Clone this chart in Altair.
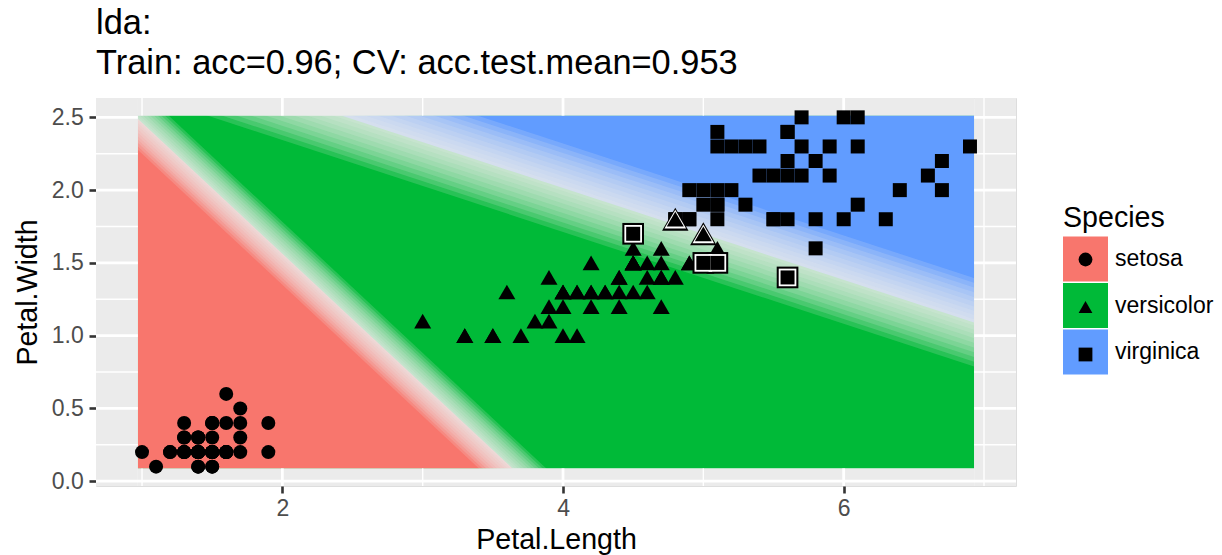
import altair as alt
import pandas as pd

# ---------------- data ----------------
SPECIES = ["setosa", "versicolor", "virginica"]
COLORS = ["#F8766D", "#00BA38", "#619CFF"]
SHAPES = ["circle", "triangle-up", "square"]

SETOSA_PL = [1.4, 1.4, 1.3, 1.5, 1.4, 1.7, 1.4, 1.5, 1.4, 1.5, 1.5, 1.6, 1.4, 1.1, 1.2, 1.5, 1.3, 1.4, 1.7, 1.5,
             1.7, 1.5, 1.0, 1.7, 1.9, 1.6, 1.6, 1.5, 1.4, 1.6, 1.6, 1.5, 1.5, 1.4, 1.5, 1.2, 1.3, 1.4, 1.3, 1.5,
             1.3, 1.3, 1.3, 1.6, 1.9, 1.4, 1.6, 1.4, 1.5, 1.4]
SETOSA_PW = [0.2, 0.2, 0.2, 0.2, 0.2, 0.4, 0.3, 0.2, 0.2, 0.1, 0.2, 0.2, 0.1, 0.1, 0.2, 0.4, 0.4, 0.3, 0.3, 0.3,
             0.2, 0.4, 0.2, 0.5, 0.2, 0.2, 0.4, 0.2, 0.2, 0.2, 0.2, 0.4, 0.1, 0.2, 0.2, 0.2, 0.2, 0.1, 0.2, 0.2,
             0.3, 0.3, 0.2, 0.6, 0.4, 0.3, 0.2, 0.2, 0.2, 0.2]
VERSI_PL = [4.7, 4.5, 4.9, 4.0, 4.6, 4.5, 4.7, 3.3, 4.6, 3.9, 3.5, 4.2, 4.0, 4.7, 3.6, 4.4, 4.5, 4.1, 4.5, 3.9,
            4.8, 4.0, 4.9, 4.7, 4.3, 4.4, 4.8, 5.0, 4.5, 3.5, 3.8, 3.7, 3.9, 5.1, 4.5, 4.5, 4.7, 4.4, 4.1, 4.0,
            4.4, 4.6, 4.0, 3.3, 4.2, 4.2, 4.2, 4.3, 3.0, 4.1]
VERSI_PW = [1.4, 1.5, 1.5, 1.3, 1.5, 1.3, 1.6, 1.0, 1.3, 1.4, 1.0, 1.5, 1.0, 1.4, 1.3, 1.4, 1.5, 1.0, 1.5, 1.1,
            1.8, 1.3, 1.5, 1.2, 1.3, 1.4, 1.4, 1.7, 1.5, 1.0, 1.1, 1.0, 1.2, 1.6, 1.5, 1.6, 1.5, 1.3, 1.3, 1.3,
            1.2, 1.4, 1.2, 1.0, 1.3, 1.2, 1.3, 1.3, 1.1, 1.3]
VIRGI_PL = [6.0, 5.1, 5.9, 5.6, 5.8, 6.6, 4.5, 6.3, 5.8, 6.1, 5.1, 5.3, 5.5, 5.0, 5.1, 5.3, 5.5, 6.7, 6.9, 5.0,
            5.7, 4.9, 6.7, 4.9, 5.7, 6.0, 4.8, 4.9, 5.6, 5.8, 6.1, 6.4, 5.6, 5.1, 5.6, 6.1, 5.6, 5.5, 4.8, 5.4,
            5.6, 5.1, 5.1, 5.9, 5.7, 5.2, 5.0, 5.2, 5.4, 5.1]
VIRGI_PW = [2.5, 1.9, 2.1, 1.8, 2.2, 2.1, 1.7, 1.8, 1.8, 2.5, 2.0, 1.9, 2.1, 2.0, 2.4, 2.3, 1.8, 2.2, 2.3, 1.5,
            2.3, 2.0, 2.0, 1.8, 2.1, 1.8, 1.8, 1.8, 2.1, 1.6, 1.9, 2.0, 2.2, 1.5, 1.4, 2.3, 2.4, 1.8, 1.8, 2.1,
            2.4, 2.3, 1.9, 2.3, 2.5, 2.3, 1.9, 2.0, 2.3, 1.8]
# training errors (0-based row numbers in setosa+versicolor+virginica order)
ERR_IDX = [70, 77, 106, 119, 133, 134]

# panel and prediction-surface extents
X_DOMAIN = [0.672, 7.228]
Y_DOMAIN = [-0.033, 2.633]
TILE_X = [0.97, 6.93]
TILE_Y = [0.088, 2.512]
# class regions of the prediction surface
RED_X = [0.97, 3.64]
RED_TOP = [2.49, 0.088]
BLUE_X = [2.42, 6.93]
BLUE_BOTTOM = [2.512, 1.09]
# low-confidence bands along the decision boundaries
RG_X = [3.96, 0.63]
RG_Y = [-0.20, 2.80]
GB_X = [1.20, 7.60]
GB_Y = [2.90, 0.88]

X_MAJOR = [2, 4, 6]
X_MINOR = [1, 3, 5, 7]
Y_MAJOR = [0.0, 0.5, 1.0, 1.5, 2.0, 2.5]
Y_MINOR = [0.25, 0.75, 1.25, 1.75, 2.25]

TITLE = ["lda:", "Train: acc=0.96; CV: acc.test.mean=0.953"]

# ---------------- styling ----------------
FONT = "Liberation Sans"
PANEL = "#EBEBEB"
BAND = "#EEEEEE"
BASE_SIZE = {"setosa": 196, "versicolor": 289, "virginica": 196}
ERR_BIG = {"versicolor": 700, "virginica": 470}
ERR_WHITE = {"versicolor": 470, "virginica": 310}
RG_WIDTHS = [46, 41, 36, 31, 26, 21, 16, 11, 7, 3]
GB_WIDTHS = [84, 75, 66, 57, 48, 39, 30, 22, 14, 6]
BAND_OPACITY = 0.17

xs = alt.Scale(domain=X_DOMAIN, nice=False, zero=False)
ys = alt.Scale(domain=Y_DOMAIN, nice=False, zero=False)
xax = alt.Axis(values=X_MAJOR, grid=False, domain=False, tickColor="#333333", tickWidth=2.6, tickSize=7,
               labelFontSize=23, labelColor="#4D4D4D", labelFont=FONT, labelPadding=4,
               title="Petal.Length", titleFontSize=28.6, titleFont=FONT, titleColor="black",
               titleFontWeight="normal", titlePadding=5)
yax = alt.Axis(values=Y_MAJOR, format=".1f", grid=False, domain=False, tickColor="#333333", tickWidth=2.6,
               tickSize=7, labelFontSize=23, labelColor="#4D4D4D", labelFont=FONT, labelPadding=5.7,
               title="Petal.Width", titleFontSize=28.6, titleFont=FONT, titleColor="black",
               titleFontWeight="normal", titlePadding=8.8)


def X(f):
    return alt.X(f"{f}:Q", scale=xs, axis=xax)


def Y(f):
    return alt.Y(f"{f}:Q", scale=ys, axis=yax)


color_legend = alt.Legend(orient="none", legendX=967, legendY=106, padding=0, title="Species",
                          titleFontSize=28.6, titleFont=FONT, titleColor="black", titleFontWeight="normal",
                          titlePadding=4, labelFontSize=23, labelFont=FONT, labelColor="black", labelOffset=7,
                          symbolType="square", symbolSize=2025, symbolStrokeWidth=0, symbolOpacity=1,
                          rowPadding=1.5)
shape_legend = alt.Legend(orient="none", legendX=978, legendY=150, padding=0, title=None,
                          labelFontSize=23, labelFont=FONT, labelExpr="''", symbolSize=190,
                          symbolFillColor="black", symbolStrokeWidth=0, symbolOpacity=1, rowPadding=23.5)
col = alt.Color("cls:N", scale=alt.Scale(domain=SPECIES, range=COLORS), legend=color_legend)

# ---------------- tables ----------------
green_df = pd.DataFrame({"cls": ["versicolor"], "x": [TILE_X[0]], "x2": [TILE_X[1]],
                         "y": [TILE_Y[0]], "y2": [TILE_Y[1]]})
red_df = pd.DataFrame({"cls": "setosa", "x": RED_X, "y": RED_TOP, "y2": TILE_Y[0]})
blue_df = pd.DataFrame({"cls": "virginica", "x": BLUE_X, "y": TILE_Y[1], "y2": BLUE_BOTTOM})

band_rg = pd.DataFrame({"x": RG_X, "y": RG_Y, "o": [0, 1]})
band_gb = pd.DataFrame({"x": GB_X, "y": GB_Y, "o": [0, 1]})

mask_df = pd.DataFrame({
    "x": [X_DOMAIN[0], TILE_X[1], TILE_X[0], TILE_X[0]],
    "x2": [TILE_X[0], X_DOMAIN[1], TILE_X[1], TILE_X[1]],
    "y": [Y_DOMAIN[0], Y_DOMAIN[0], Y_DOMAIN[0], TILE_Y[1]],
    "y2": [Y_DOMAIN[1], Y_DOMAIN[1], TILE_Y[0], Y_DOMAIN[1]],
})

segs = []
for vals, w in ((X_MAJOR, 2.8), (X_MINOR, 1.4)):
    for v in vals:
        if TILE_X[0] <= v <= TILE_X[1]:
            segs.append((v, v, Y_DOMAIN[0], TILE_Y[0], w))
            segs.append((v, v, TILE_Y[1], Y_DOMAIN[1], w))
        else:
            segs.append((v, v, Y_DOMAIN[0], Y_DOMAIN[1], w))
for vals, w in ((Y_MAJOR, 2.8), (Y_MINOR, 1.4)):
    for v in vals:
        if TILE_Y[0] <= v <= TILE_Y[1]:
            segs.append((X_DOMAIN[0], TILE_X[0], v, v, w))
            segs.append((TILE_X[1], X_DOMAIN[1], v, v, w))
        else:
            segs.append((X_DOMAIN[0], X_DOMAIN[1], v, v, w))
grid_df = pd.DataFrame(segs, columns=["x", "x2", "y", "y2", "w"])

pts = pd.DataFrame({
    "x": SETOSA_PL + VERSI_PL + VIRGI_PL,
    "y": SETOSA_PW + VERSI_PW + VIRGI_PW,
    "sp": ["setosa"] * len(SETOSA_PL) + ["versicolor"] * len(VERSI_PL) + ["virginica"] * len(VIRGI_PL),
})
pts["sz"] = pts["sp"].map(BASE_SIZE)
pts["err"] = False
pts.loc[ERR_IDX, "err"] = True
ok_pts = pts[~pts["err"]].copy()
err_pts = pts[pts["err"]].copy()
err_big = err_pts.assign(sz=err_pts["sp"].map(ERR_BIG))
err_white = err_pts.assign(sz=err_pts["sp"].map(ERR_WHITE))

shape_scale = alt.Scale(range=SHAPES)

# ---------------- layers ----------------
layers = []
layers.append(alt.Chart(green_df).mark_rect(opacity=1).encode(
    x=X("x"), x2="x2:Q", y=Y("y"), y2="y2:Q", color=col))
layers.append(alt.Chart(red_df).mark_area(opacity=1).encode(
    x=X("x"), y=Y("y"), y2="y2:Q", color=col))
layers.append(alt.Chart(blue_df).mark_area(opacity=1).encode(
    x=X("x"), y=Y("y"), y2="y2:Q", color=col))

for df_b, widths in ((band_rg, RG_WIDTHS), (band_gb, GB_WIDTHS)):
    for w in widths:
        layers.append(alt.Chart(df_b).mark_line(color=BAND, strokeWidth=w, opacity=BAND_OPACITY, clip=True,
                                                strokeCap="butt").encode(
            x=X("x"), y=Y("y"), order="o:Q"))

layers.append(alt.Chart(mask_df).mark_rect(color=PANEL, opacity=1).encode(
    x=X("x"), x2="x2:Q", y=Y("y"), y2="y2:Q"))
layers.append(alt.Chart(grid_df).mark_rule(color="white").encode(
    x=X("x"), x2="x2:Q", y=Y("y"), y2="y2:Q", strokeWidth=alt.StrokeWidth("w:Q", scale=None, legend=None)))

layers.append(alt.Chart(ok_pts).mark_point(filled=True, opacity=1, strokeWidth=0).encode(
    x=X("x"), y=Y("y"), color=alt.value("black"),
    shape=alt.Shape("sp:N", scale=shape_scale, legend=shape_legend),
    size=alt.Size("sz:Q", scale=None, legend=None)))
for df_e, c in ((err_big, "black"), (err_white, "white"), (err_pts, "black")):
    layers.append(alt.Chart(df_e).mark_point(filled=True, opacity=1, strokeWidth=0).encode(
        x=X("x"), y=Y("y"), color=alt.value(c),
        shape=alt.Shape("sp:N", scale=shape_scale, legend=None),
        size=alt.Size("sz:Q", scale=None, legend=None)))

chart = alt.layer(*layers).properties(
    width=920, height=388,
    title=alt.TitleParams(text=TITLE, anchor="start", frame="group", fontSize=34.4, font=FONT,
                          fontWeight="normal", color="black", offset=15, lineHeight=40),
    autosize=alt.AutoSizeParams(type="none"),
    padding={"left": 96, "top": 98, "right": 206, "bottom": 69},
).configure_view(fill=PANEL, strokeWidth=0).configure(font=FONT, background="white")

chart.save("out.html", embed_options={"renderer": "svg", "actions": False})
